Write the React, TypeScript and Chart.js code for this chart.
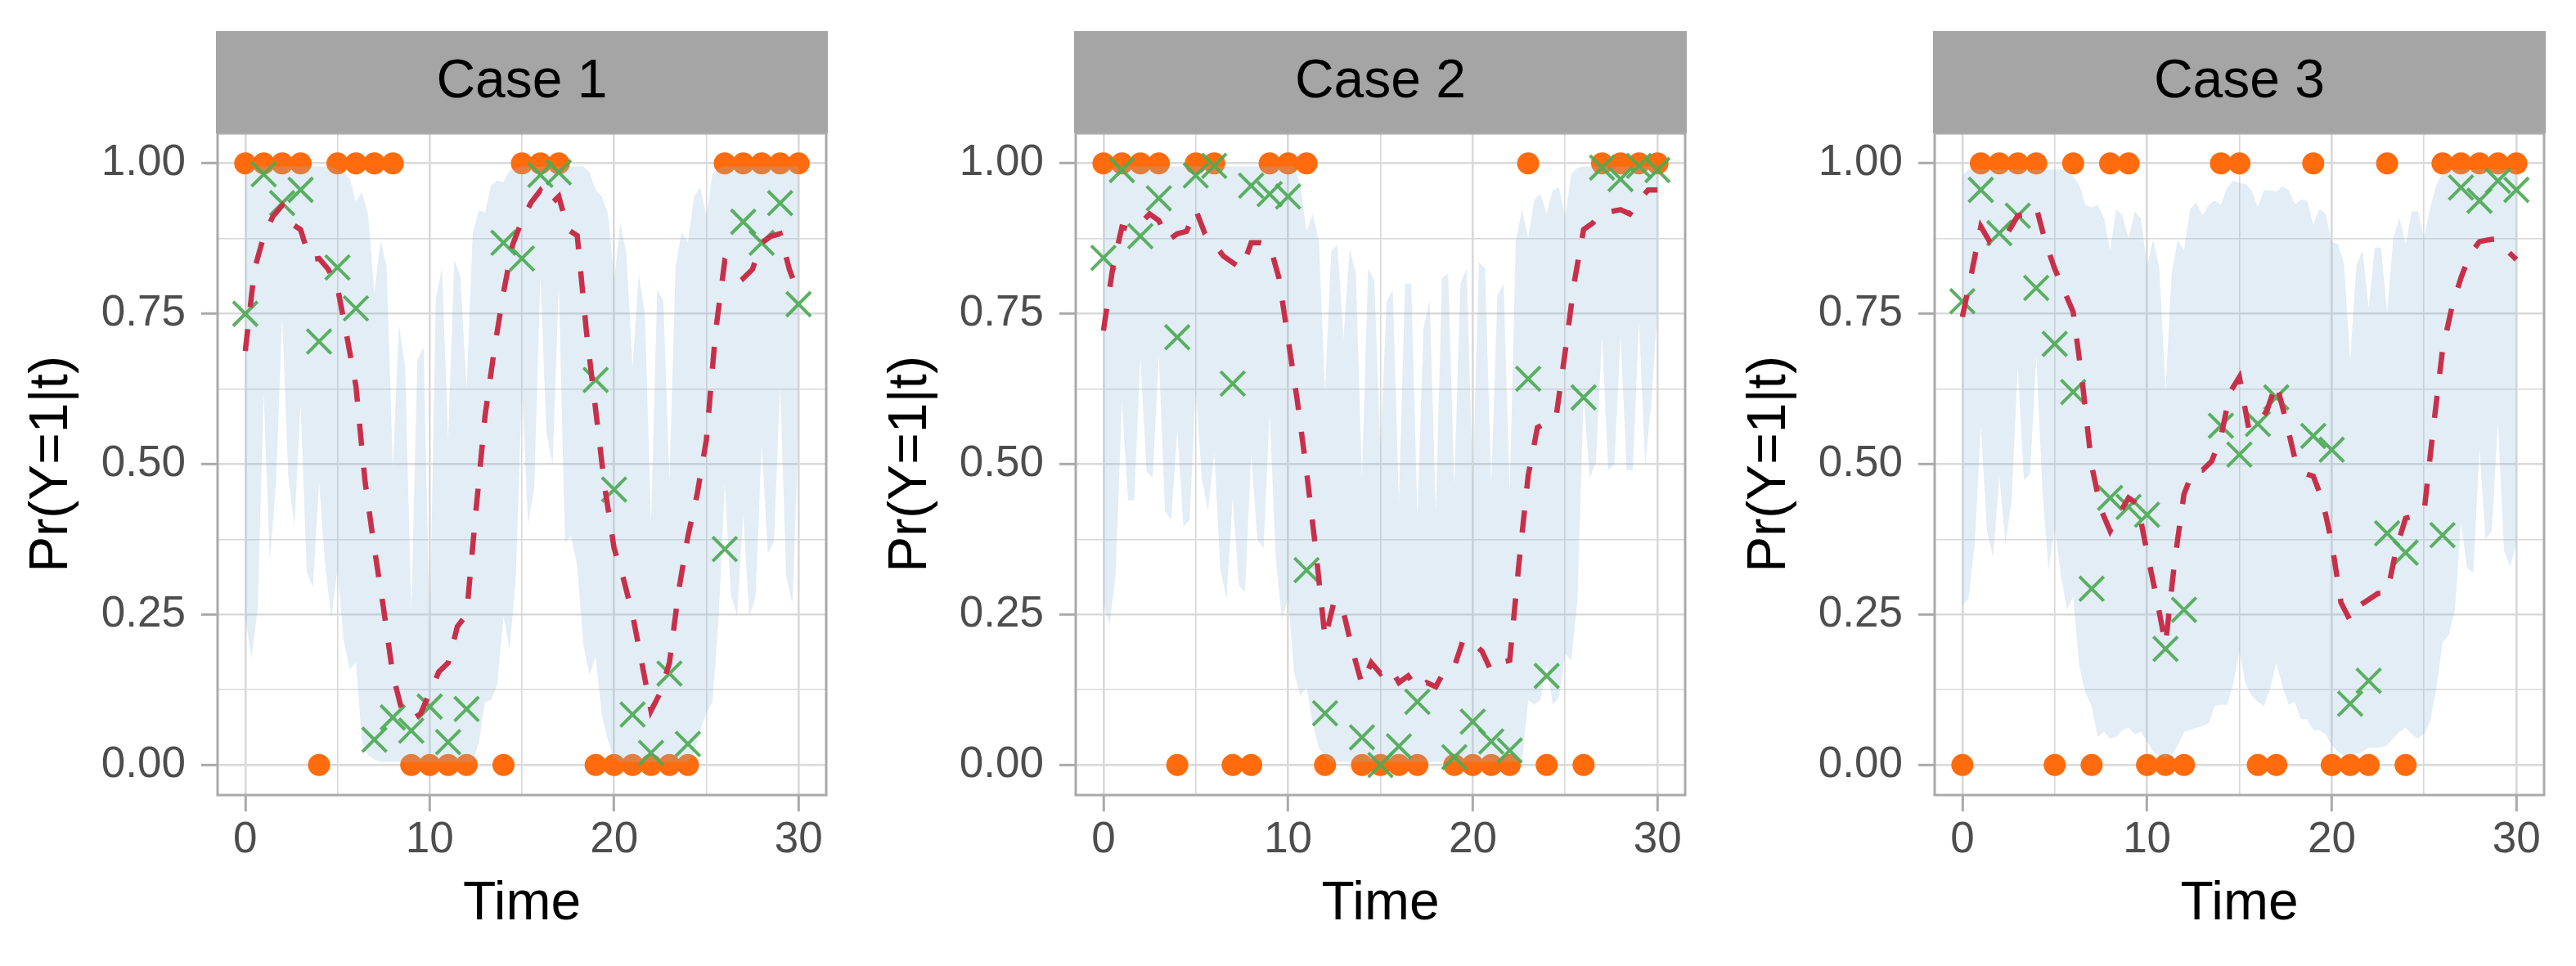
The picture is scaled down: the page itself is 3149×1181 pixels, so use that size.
import React, { useEffect, useRef } from 'react';
import { Chart, registerables } from 'chart.js';

Chart.register(...registerables);

const FONT = '"Liberation Sans", Arial, Helvetica, sans-serif';

const caseLabels = ['Case 1', 'Case 2', 'Case 3'];

// observed time points (13, 18 and 25 are missing)
const obsTimes = [0, 1, 2, 3, 4, 5, 6, 7, 8, 9, 10, 11, 12, 14, 15, 16, 17, 19, 20, 21, 22, 23, 24, 26, 27, 28, 29, 30];

// observed outcome Y (orange dots)
const obsCase1 = [1, 1, 1, 1, 0, 1, 1, 1, 1, 0, 0, 0, 0, 0, 1, 1, 1, 0, 0, 0, 0, 0, 0, 1, 1, 1, 1, 1];
const obsCase2 = [1, 1, 1, 1, 0, 1, 1, 0, 0, 1, 1, 1, 0, 0, 0, 0, 0, 0, 0, 0, 0, 1, 0, 0, 1, 1, 1, 1];
const obsCase3 = [0, 1, 1, 1, 1, 0, 1, 0, 1, 1, 0, 0, 0, 1, 1, 0, 0, 1, 0, 0, 0, 1, 0, 1, 1, 1, 1, 1];

// point estimates at the observed times (green crosses)
const estCase1 = [0.75, 0.982, 0.934, 0.956, 0.704, 0.827, 0.759, 0.042, 0.079, 0.057, 0.097, 0.038, 0.093, 0.868, 0.842, 0.981, 0.985, 0.64, 0.458, 0.084, 0.02, 0.152, 0.035, 0.359, 0.903, 0.868, 0.934, 0.766];
const estCase2 = [0.843, 0.989, 0.879, 0.942, 0.711, 0.98, 0.996, 0.634, 0.963, 0.949, 0.945, 0.324, 0.086, 0.046, 0.0, 0.031, 0.105, 0.013, 0.072, 0.039, 0.024, 0.642, 0.148, 0.611, 0.993, 0.974, 0.996, 0.989];
const estCase3 = [0.771, 0.956, 0.884, 0.913, 0.793, 0.7, 0.62, 0.293, 0.444, 0.429, 0.416, 0.193, 0.258, 0.564, 0.516, 0.567, 0.611, 0.547, 0.524, 0.102, 0.14, 0.385, 0.353, 0.382, 0.96, 0.938, 0.971, 0.956];

// fitted curve, every half time unit (red dashed line)
const fitTimes = Array.from({ length: 61 }, (_, i) => i / 2);
const meanCase1 = [
  0.688, 0.824, 0.879, 0.912, 0.93, 0.9, 0.89, 0.84, 0.842, 0.824,
  0.794, 0.714, 0.63, 0.47, 0.36, 0.26, 0.15, 0.09, 0.075, 0.085,
  0.12, 0.155, 0.17, 0.23, 0.25, 0.42, 0.58, 0.69, 0.785, 0.865,
  0.905, 0.935, 0.955, 0.93, 0.945, 0.89, 0.88, 0.72, 0.59, 0.46,
  0.36, 0.31, 0.25, 0.17, 0.09, 0.12, 0.17, 0.29, 0.38, 0.45,
  0.54, 0.72, 0.838, 0.831, 0.809, 0.824, 0.868, 0.879, 0.883, 0.824,
  0.783,
];
const meanCase2 = [
  0.722, 0.825, 0.894, 0.89, 0.9, 0.916, 0.905, 0.872, 0.883, 0.887,
  0.923, 0.883, 0.865, 0.846, 0.835, 0.825, 0.868, 0.868, 0.865, 0.81,
  0.708, 0.605, 0.488, 0.357, 0.21, 0.273, 0.254, 0.189, 0.134, 0.17,
  0.152, 0.163, 0.137, 0.148, 0.126, 0.137, 0.13, 0.159, 0.163, 0.21,
  0.203, 0.189, 0.156, 0.17, 0.174, 0.335, 0.481, 0.561, 0.569, 0.576,
  0.686, 0.803, 0.89, 0.901, 0.92, 0.92, 0.923, 0.916, 0.938, 0.956,
  0.956,
];
const meanCase3 = [
  0.745, 0.818, 0.895, 0.869, 0.873, 0.887, 0.913, 0.916, 0.927, 0.869,
  0.825, 0.789, 0.753, 0.636, 0.498, 0.425, 0.389, 0.418, 0.444, 0.433,
  0.353, 0.28, 0.2, 0.34, 0.45, 0.49, 0.49, 0.505, 0.545, 0.62,
  0.645, 0.56, 0.565, 0.59, 0.635, 0.575, 0.51, 0.485, 0.48, 0.44,
  0.37, 0.27, 0.24, 0.265, 0.275, 0.285, 0.285, 0.36, 0.41, 0.415,
  0.42, 0.56, 0.69, 0.76, 0.81, 0.85, 0.87, 0.873, 0.875, 0.855,
  0.84,
];

// credible band, every third of a time unit (one row per time unit)
const bandTimes = Array.from({ length: 91 }, (_, i) => i / 3);
const upperCase1 = [
  0.98, 0.99, 0.995, 0.995, 0.995, 0.995, 0.995, 0.995, 0.995, 0.995, 0.995, 0.995,
  0.995, 0.995, 0.995, 0.99, 0.985, 0.975, 0.937, 0.952, 0.913, 0.784, 0.872, 0.828,
  0.491, 0.731, 0.663, 0.256, 0.673, 0.695, 0.22, 0.775, 0.826, 0.54, 0.84, 0.811,
  0.625, 0.884, 0.922, 0.918, 0.964, 0.971, 0.969, 0.988, 0.993, 0.995, 0.995, 0.995,
  0.995, 0.995, 0.995, 0.995, 0.995, 0.995, 0.995, 0.995, 0.985, 0.956, 0.945, 0.916,
  0.805, 0.9, 0.85, 0.66, 0.816, 0.75, 0.4, 0.79, 0.772, 0.473, 0.83, 0.886,
  0.868, 0.945, 0.96, 0.912, 0.982, 0.993, 0.995, 0.995, 0.995, 0.995, 0.995, 0.995,
  0.995, 0.995, 0.995, 0.995, 0.995, 0.995, 0.995,
];
const lowerCase1 = [
  0.244, 0.178, 0.258, 0.618, 0.339, 0.468, 0.747, 0.479, 0.398, 0.6, 0.321, 0.295,
  0.471, 0.332, 0.244, 0.325, 0.207, 0.159, 0.17, 0.038, 0.016, 0.009, 0.005, 0.005,
  0.005, 0.005, 0.005, 0.005, 0.005, 0.005, 0.005, 0.005, 0.005, 0.005, 0.005, 0.005,
  0.005, 0.005, 0.038, 0.104, 0.108, 0.134, 0.247, 0.192, 0.31, 0.626, 0.4, 0.46,
  0.81, 0.55, 0.5, 0.8, 0.37, 0.38, 0.33, 0.2, 0.15, 0.18, 0.083, 0.04,
  0.01, 0.005, 0.005, 0.005, 0.005, 0.005, 0.005, 0.005, 0.005, 0.005, 0.005, 0.005,
  0.005, 0.02, 0.057, 0.086, 0.105, 0.245, 0.468, 0.282, 0.248, 0.415, 0.248, 0.279,
  0.534, 0.352, 0.371, 0.633, 0.313, 0.267, 0.55,
];
const upperCase2 = [
  0.98, 0.99, 0.995, 0.995, 0.995, 0.995, 0.995, 0.995, 0.995, 0.995, 0.995, 0.995,
  0.995, 0.995, 0.995, 0.995, 0.995, 0.995, 0.995, 0.995, 0.995, 0.995, 0.995, 0.995,
  0.995, 0.995, 0.995, 0.995, 0.995, 0.995, 0.995, 0.995, 0.963, 0.887, 0.916, 0.872,
  0.62, 0.854, 0.865, 0.708, 0.857, 0.817, 0.477, 0.825, 0.806, 0.525, 0.77, 0.79,
  0.437, 0.8, 0.8, 0.415, 0.726, 0.773, 0.419, 0.81, 0.817, 0.466, 0.8, 0.825,
  0.466, 0.836, 0.825, 0.466, 0.78, 0.8, 0.455, 0.872, 0.923, 0.876, 0.94, 0.949,
  0.916, 0.956, 0.96, 0.912, 0.982, 0.993, 0.995, 0.995, 0.995, 0.995, 0.995, 0.995,
  0.995, 0.995, 0.995, 0.995, 0.995, 0.995, 0.995,
];
const lowerCase2 = [
  0.269, 0.232, 0.32, 0.605, 0.44, 0.44, 0.678, 0.488, 0.477, 0.682, 0.422, 0.408,
  0.557, 0.396, 0.408, 0.627, 0.474, 0.423, 0.52, 0.324, 0.276, 0.444, 0.298, 0.287,
  0.518, 0.375, 0.36, 0.587, 0.342, 0.243, 0.276, 0.152, 0.115, 0.13, 0.068, 0.028,
  0.013, 0.005, 0.005, 0.005, 0.005, 0.005, 0.005, 0.005, 0.005, 0.005, 0.005, 0.005,
  0.005, 0.005, 0.005, 0.005, 0.005, 0.005, 0.005, 0.005, 0.005, 0.005, 0.005, 0.005,
  0.005, 0.005, 0.005, 0.005, 0.005, 0.005, 0.005, 0.005, 0.005, 0.108, 0.1, 0.108,
  0.167, 0.1, 0.112, 0.185, 0.174, 0.276, 0.613, 0.477, 0.503, 0.715, 0.49, 0.5,
  0.715, 0.49, 0.49, 0.74, 0.5, 0.6, 0.76,
];
const upperCase3 = [
  0.98, 0.99, 0.99, 0.99, 0.99, 0.99, 0.99, 0.99, 0.99, 0.99, 0.99, 0.99,
  0.99, 0.99, 0.99, 0.99, 0.99, 0.99, 0.978, 0.964, 0.931, 0.927, 0.931, 0.909,
  0.855, 0.924, 0.913, 0.876, 0.92, 0.909, 0.829, 0.873, 0.825, 0.622, 0.818, 0.873,
  0.855, 0.924, 0.935, 0.913, 0.931, 0.938, 0.931, 0.96, 0.971, 0.967, 0.966, 0.955,
  0.927, 0.956, 0.955, 0.953, 0.962, 0.956, 0.932, 0.94, 0.938, 0.898, 0.925, 0.916,
  0.869, 0.866, 0.833, 0.673, 0.83, 0.855, 0.76, 0.86, 0.86, 0.753, 0.876, 0.91,
  0.865, 0.92, 0.92, 0.876, 0.927, 0.964, 0.985, 0.99, 0.99, 0.99, 0.99, 0.99,
  0.99, 0.99, 0.99, 0.99, 0.99, 0.99, 0.99,
];
const lowerCase3 = [
  0.265, 0.276, 0.367, 0.564, 0.39, 0.345, 0.48, 0.367, 0.44, 0.662, 0.473, 0.484,
  0.68, 0.458, 0.324, 0.396, 0.316, 0.258, 0.28, 0.164, 0.12, 0.098, 0.047, 0.055,
  0.044, 0.047, 0.058, 0.062, 0.051, 0.055, 0.04, 0.022, 0.015, 0.011, 0.015, 0.033,
  0.055, 0.058, 0.062, 0.065, 0.069, 0.098, 0.1, 0.1, 0.135, 0.19, 0.135, 0.115,
  0.105, 0.098, 0.127, 0.17, 0.13, 0.1, 0.105, 0.076, 0.076, 0.058, 0.058, 0.051,
  0.033, 0.022, 0.015, 0.018, 0.018, 0.022, 0.029, 0.029, 0.029, 0.033, 0.044, 0.055,
  0.062, 0.051, 0.044, 0.051, 0.073, 0.127, 0.204, 0.215, 0.258, 0.404, 0.327, 0.32,
  0.527, 0.375, 0.389, 0.571, 0.356, 0.33, 0.367,
];

const xTicks = [0, 5, 10, 15, 20, 25, 30];
const yTicks = [0, 0.125, 0.25, 0.375, 0.5, 0.625, 0.75, 0.875, 1];

const panels = [
  { label: caseLabels[0], obs: obsCase1, est: estCase1, mean: meanCase1, upper: upperCase1, lower: lowerCase1 },
  { label: caseLabels[1], obs: obsCase2, est: estCase2, mean: meanCase2, upper: upperCase2, lower: lowerCase2 },
  { label: caseLabels[2], obs: obsCase3, est: estCase3, mean: meanCase3, upper: upperCase3, lower: lowerCase3 },
];

// canvas placement: [left, width, y-axis width, right padding]
const boxes = [
  [0, 1050, 266, 40],
  [1050, 1050, 265, 40],
  [2100, 1049, 265, 39],
];

const pts = (xs: number[], ys: number[]) => xs.map((x, i) => ({ x, y: ys[i] }));

const GRID = '#d9d9d9';
const TICK = '#a9a9a9';

const Panel: React.FC<{ idx: number }> = ({ idx }) => {
  const canvasRef = useRef<HTMLCanvasElement | null>(null);
  const p = panels[idx];
  const [left, width, yWidth, padRight] = boxes[idx];

  useEffect(() => {
    if (!canvasRef.current) return;

    const facet = {
      id: 'facet',
      beforeDraw(chart: any) {
        const { ctx, chartArea: a } = chart;
        ctx.save();
        ctx.fillStyle = '#a5a5a5';
        ctx.fillRect(a.left - 2, 38, a.right - a.left + 4, a.top - 38);
        ctx.fillStyle = '#000000';
        ctx.font = `66px ${FONT}`;
        ctx.textAlign = 'center';
        ctx.textBaseline = 'middle';
        ctx.fillText(p.label, (a.left + a.right) / 2, 101);
        ctx.restore();
      },
      afterDraw(chart: any) {
        const { ctx, chartArea: a } = chart;
        ctx.save();
        ctx.strokeStyle = '#aaaaaa';
        ctx.lineWidth = 3;
        ctx.strokeRect(a.left, a.top, a.right - a.left, a.bottom - a.top);
        ctx.restore();
      },
    };

    const chart = new Chart(canvasRef.current, {
      type: 'line',
      data: {
        datasets: [
          {
            label: 'fitted',
            data: pts(fitTimes, p.mean),
            borderColor: '#c8304a',
            borderWidth: 6.5,
            borderDash: [27, 27],
            borderCapStyle: 'butt',
            pointRadius: 0,
            fill: false,
            tension: 0,
            order: 0,
          },
          {
            label: 'estimate',
            data: pts(obsTimes, p.est),
            showLine: false,
            pointStyle: 'crossRot',
            pointRadius: 21,
            pointBorderWidth: 4,
            pointBorderColor: 'rgba(77,170,84,0.92)',
            pointBackgroundColor: 'rgba(0,0,0,0)',
            order: 1,
          },
          {
            label: 'upper',
            data: pts(bandTimes, p.upper),
            borderColor: 'rgba(0,0,0,0)',
            borderWidth: 0,
            pointRadius: 0,
            backgroundColor: 'rgba(140,185,215,0.25)',
            fill: '+1',
            tension: 0,
            order: 2,
          },
          {
            label: 'lower',
            data: pts(bandTimes, p.lower),
            borderColor: 'rgba(0,0,0,0)',
            borderWidth: 0,
            pointRadius: 0,
            fill: false,
            tension: 0,
            order: 2,
          },
          {
            label: 'observed',
            data: pts(obsTimes, p.obs),
            showLine: false,
            pointStyle: 'circle',
            pointRadius: 13.5,
            pointBorderWidth: 0,
            pointBorderColor: 'rgba(0,0,0,0)',
            pointBackgroundColor: '#ff6b0d',
            order: 3,
          },
        ],
      },
      options: {
        animation: false,
        responsive: true,
        maintainAspectRatio: false,
        events: [],
        layout: { padding: { top: 163, right: padRight, left: 0, bottom: 0 } },
        plugins: {
          legend: { display: false },
          title: { display: false },
          tooltip: { enabled: false },
        },
        scales: {
          x: {
            type: 'linear',
            min: -1.5,
            max: 31.5,
            afterBuildTicks: (axis: any) => {
              axis.ticks = xTicks.map((value) => ({ value }));
            },
            afterFit: (axis: any) => {
              axis.height = 209;
            },
            border: { display: false },
            grid: {
              color: GRID,
              lineWidth: (c: any) => (c.tick && c.tick.value % 10 === 0 ? 2.6 : 1.6),
              tickColor: (c: any) => (c.tick && c.tick.value % 10 === 0 ? TICK : 'rgba(0,0,0,0)'),
              tickWidth: 3,
              tickLength: 20,
            },
            ticks: {
              autoSkip: false,
              maxRotation: 0,
              padding: 4,
              color: '#4d4d4d',
              font: { family: FONT, size: 53 },
              callback: (v: any) => (v % 10 === 0 ? String(v) : ''),
            },
            title: {
              display: true,
              text: 'Time',
              color: '#000000',
              font: { family: FONT, size: 66 },
              padding: { top: 0, bottom: 36 },
            },
          },
          y: {
            type: 'linear',
            min: -0.05,
            max: 1.05,
            afterBuildTicks: (axis: any) => {
              axis.ticks = yTicks.map((value) => ({ value }));
            },
            afterFit: (axis: any) => {
              axis.width = yWidth;
            },
            border: { display: false },
            grid: {
              color: GRID,
              lineWidth: (c: any) => (c.tick && c.tick.value % 0.25 === 0 ? 2.6 : 1.6),
              tickColor: (c: any) => (c.tick && c.tick.value % 0.25 === 0 ? TICK : 'rgba(0,0,0,0)'),
              tickWidth: 3,
              tickLength: 20,
            },
            ticks: {
              autoSkip: false,
              padding: 19,
              color: '#4d4d4d',
              font: { family: FONT, size: 53 },
              callback: (v: any) => (v % 0.25 === 0 ? Number(v).toFixed(2) : ''),
            },
            title: {
              display: true,
              text: 'Pr(Y=1|t)',
              color: '#000000',
              font: { family: FONT, size: 66 },
              padding: { top: 24, bottom: 0 },
            },
          },
        },
      },
      plugins: [facet],
    } as any);

    return () => {
      chart.destroy();
    };
  }, []);

  return (
    <div style={{ position: 'absolute', left, top: 0, width, height: 1181 }}>
      <canvas ref={canvasRef} />
    </div>
  );
};

const App: React.FC = () => {
  return (
    <div style={{ position: 'absolute', left: 0, top: 0, width: 3149, height: 1181, background: '#ffffff' }}>
      {panels.map((_, i) => (
        <Panel key={i} idx={i} />
      ))}
    </div>
  );
};

export default App;
